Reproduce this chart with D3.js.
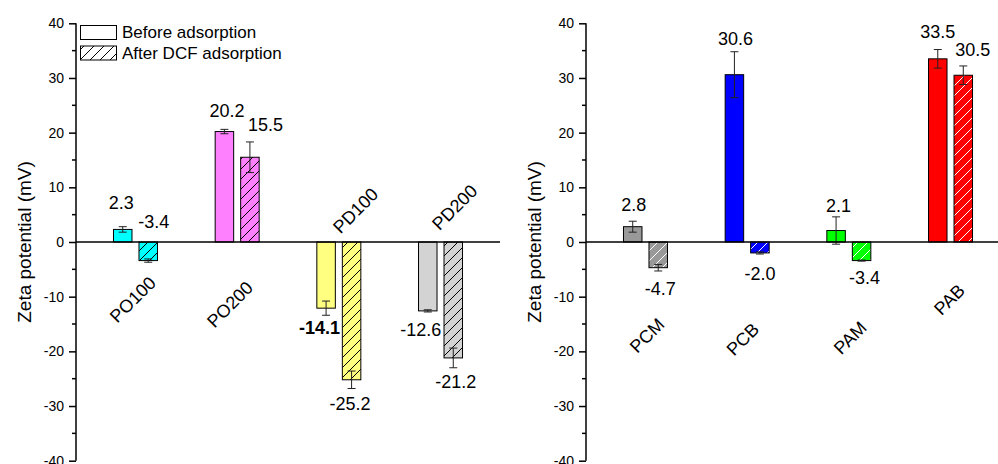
<!DOCTYPE html>
<html><head><meta charset="utf-8">
<script src="https://cdn.jsdelivr.net/npm/d3@7"></script>
<style>body{margin:0;background:#fff}svg{display:block}text{font-family:"Liberation Sans",Arial,sans-serif;fill:#000}</style>
</head><body>
<svg id="chart" width="998" height="464"></svg>
<script>
// ---------- data ----------
const categoriesLeft = ["PO100", "PO200", "PD100", "PD200"];
const beforeLeft = [2.3, 20.2, -12.1, -12.6];
const afterLeft = [-3.4, 15.5, -25.2, -21.2];
const beforeErrLeft = [0.5, 0.4, 1.3, 0.2];
const afterErrLeft = [0.3, 2.8, 1.6, 1.8];
const beforeTextLeft = ["2.3", "20.2", "-14.1", "-12.6"];
const afterTextLeft = ["-3.4", "15.5", "-25.2", "-21.2"];
const colorsLeft = ["#00FFFF", "#FF80FF", "#FFFF80", "#D3D3D3"];

const categoriesRight = ["PCM", "PCB", "PAM", "PAB"];
const beforeRight = [2.8, 30.6, 2.1, 33.5];
const afterRight = [-4.7, -2.0, -3.4, 30.5];
const beforeErrRight = [1.0, 4.2, 2.5, 1.7];
const afterErrRight = [0.6, 0.2, 0.1, 1.7];
const beforeTextRight = ["2.8", "30.6", "2.1", "33.5"];
const afterTextRight = ["-4.7", "-2.0", "-3.4", "30.5"];
const colorsRight = ["#999999", "#0000FF", "#00FF00", "#FF0000"];

const yTicks = [-40, -30, -20, -10, 0, 10, 20, 30, 40];
const yMinorTicks = [-35, -25, -15, -5, 5, 15, 25, 35];
const legendLabels = ["Before adsorption", "After DCF adsorption"];
const yTitle = "Zeta potential (mV)";

// ---------- annotation layout (value units for y, px shift for x) ----------
const beforeLabelYLeft = [6.0, 22.9, -16.8, -17.2];
const afterLabelYLeft = [2.6, 20.3, -30.7, -26.7];
const beforeLabelDxLeft = [-1.5, 2.5, -6.5, -7];
const afterLabelDxLeft = [5.5, 15.5, -1.5, 2.5];
const beforeWeightLeft = ["normal", "normal", "bold", "normal"];
const catLabelYLeft = [-7.7, -8.6, 8.5, 9.1];
const catLabelDxLeft = [21.5, 17, 40.5, 38];

const beforeLabelYRight = [5.7, 36.0, 5.5, 37.4];
const afterLabelYRight = [-9.7, -6.95, -7.7, 34.0];
const beforeLabelDxRight = [1, 1, 2.5, 0];
const afterLabelDxRight = [2, 0, 3, 9.5];
const beforeWeightRight = ["normal", "normal", "normal", "normal"];
const catLabelYRight = [-15.3, -16.2, -15.9, -9.1];
const catLabelDxRight = [20, 13, 19, 15.5];

// ---------- drawing ----------
const svg = d3.select("#chart");
const y = d3.scaleLinear().domain([-40, 40]).range([460.7, 23.3]);

const defs = svg.append("defs");
function hatch(id, color, bg) {
  const p = defs.append("pattern").attr("id", id).attr("patternUnits", "userSpaceOnUse")
    .attr("width", 10).attr("height", 10);
  if (bg) p.append("rect").attr("width", 10).attr("height", 10).attr("fill", bg);
  p.append("path").attr("d", "M-1,11 L11,-1 M-6,6 L6,-6 M4,16 L16,4")
    .attr("stroke", color).attr("stroke-width", 1);
  return "url(#" + id + ")";
}

function panel(opts) {
  const g = svg.append("g");
  const x = d3.scaleBand().domain(opts.categories).range([opts.x0, opts.x1]).paddingOuter(0.085).paddingInner(0);
  const bw = 18.5, gap = 7;
  const center = c => x(c) + x.bandwidth() / 2;

  const fills = opts.colors.map((c, i) => hatch(opts.id + "h" + i, opts.hatchColor, c));

  opts.categories.forEach((c, i) => {
    const cx = center(c);
    const series = [
      {v: opts.before[i], e: opts.beforeErr[i], x: cx - gap / 2 - bw, fill: opts.colors[i]},
      {v: opts.after[i], e: opts.afterErr[i], x: cx + gap / 2, fill: fills[i]}
    ];
    series.forEach(s => {
      g.append("rect").attr("x", s.x).attr("width", bw)
        .attr("y", Math.min(y(s.v), y(0))).attr("height", Math.abs(y(s.v) - y(0)))
        .attr("fill", s.fill).attr("stroke", "#000").attr("stroke-width", 1);
    });
    series.forEach(s => {
      const mx = s.x + bw / 2;
      g.append("path")
        .attr("d", `M${mx},${y(s.v + s.e)}V${y(s.v - s.e)}M${mx - 4},${y(s.v + s.e)}h8M${mx - 4},${y(s.v - s.e)}h8`)
        .attr("stroke", "#222").attr("stroke-width", 1).attr("fill", "none");
    });
    g.append("text").attr("x", cx - gap / 2 - bw / 2 + opts.bDx[i]).attr("y", y(opts.bLY[i]))
      .attr("text-anchor", "middle").attr("font-size", 18).attr("font-weight", opts.bW[i]).text(opts.beforeText[i]);
    g.append("text").attr("x", cx + gap / 2 + bw / 2 + opts.aDx[i]).attr("y", y(opts.aLY[i]))
      .attr("text-anchor", "middle").attr("font-size", 18).text(opts.afterText[i]);
    const lx = cx + opts.cDx[i], ly = y(opts.cLY[i]);
    g.append("text").attr("transform", `translate(${lx},${ly}) rotate(-45)`)
      .attr("text-anchor", "end").attr("font-size", 18).text(c);
  });

  g.append("line").attr("x1", opts.x0).attr("x2", opts.x1).attr("y1", y(0)).attr("y2", y(0))
    .attr("stroke", "#000").attr("stroke-width", 1.5);

  const ax = g.append("g").attr("transform", `translate(${opts.x0},0)`)
    .call(d3.axisLeft(y).tickValues(yTicks).tickSize(7).tickPadding(5).tickFormat(d => String(d)));
  ax.select(".domain").attr("stroke-width", 1.5).attr("d", `M0,${y(-40)}V${y(40)}`);
  ax.selectAll(".tick line").attr("stroke-width", 1.5);
  ax.selectAll(".tick text").attr("font-size", 14).attr("font-family", "Liberation Sans, Arial, sans-serif");
  ax.selectAll(".minor").data(yMinorTicks).enter().append("line").attr("class", "minor")
    .attr("x1", -4).attr("x2", 0).attr("y1", d => y(d)).attr("y2", d => y(d))
    .attr("stroke", "#000").attr("stroke-width", 1.5);

  g.append("text").attr("transform", `translate(${opts.titleX},${(y(40) + y(-40)) / 2}) rotate(-90)`)
    .attr("text-anchor", "middle").attr("font-size", 19).text(yTitle);
  return g;
}

panel({id: "L", x0: 76, x1: 500, titleX: 31, categories: categoriesLeft, before: beforeLeft, after: afterLeft,
  beforeErr: beforeErrLeft, afterErr: afterErrLeft, beforeText: beforeTextLeft, afterText: afterTextLeft,
  colors: colorsLeft, hatchColor: "#000", bLY: beforeLabelYLeft, aLY: afterLabelYLeft, bW: beforeWeightLeft,
  bDx: beforeLabelDxLeft, aDx: afterLabelDxLeft, cLY: catLabelYLeft, cDx: catLabelDxLeft});

panel({id: "R", x0: 586, x1: 1010, titleX: 541, categories: categoriesRight, before: beforeRight, after: afterRight,
  beforeErr: beforeErrRight, afterErr: afterErrRight, beforeText: beforeTextRight, afterText: afterTextRight,
  colors: colorsRight, hatchColor: "#fff", bLY: beforeLabelYRight, aLY: afterLabelYRight, bW: beforeWeightRight,
  bDx: beforeLabelDxRight, aDx: afterLabelDxRight, cLY: catLabelYRight, cDx: catLabelDxRight});

const lg = svg.append("g");
const legendFill = ["#fff", hatch("legH", "#000", "#fff")];
legendLabels.forEach((t, i) => {
  lg.append("rect").attr("x", 80.5).attr("y", 25.5 + i * 20.5).attr("width", 36).attr("height", 14)
    .attr("fill", legendFill[i]).attr("stroke", "#000").attr("stroke-width", 1);
  lg.append("text").attr("x", 122).attr("y", 38 + i * 20.5).attr("font-size", 17).text(t);
});
</script>
</body></html>
